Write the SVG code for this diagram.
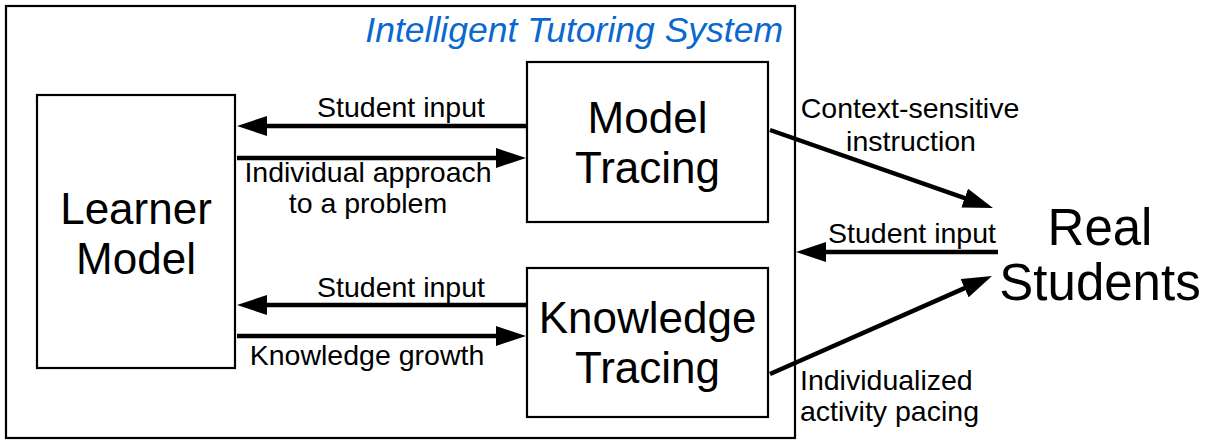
<svg xmlns="http://www.w3.org/2000/svg" width="1209" height="442" viewBox="0 0 1209 442">
<style>
.box{fill:#fff;stroke:#000;stroke-width:2.2}
.frame{fill:#fff;stroke:#000;stroke-width:2.2}
.big{font-family:"Liberation Sans",Arial,sans-serif;font-size:44px;fill:#000;text-anchor:middle}
.lbl{font-family:"Liberation Sans",Arial,sans-serif;font-size:28.5px;fill:#000}
.title{font-family:"Liberation Sans",Arial,sans-serif;font-size:35.5px;font-style:italic;fill:#0a68d0;text-anchor:end}
.conn line{stroke:#000;stroke-width:4.5;marker-end:url(#ah)}
</style>
<defs>
<marker id="ah" markerUnits="userSpaceOnUse" markerWidth="30" markerHeight="20" refX="10" refY="10" orient="auto" viewBox="0 0 30 20">
<path d="M0,0 L30,10 L0,20 z" fill="#000"/>
</marker>
</defs>
<g id="its">
<rect class="frame" x="6" y="6" width="789" height="432"/>
<text class="title" x="783" y="42">Intelligent Tutoring System</text>
</g>
<g id="learner-model">
<rect class="box" x="37" y="95" width="198" height="273"/>
<text class="big" x="136" y="224">Learner</text>
<text class="big" x="136" y="274">Model</text>
</g>
<g id="model-tracing">
<rect class="box" x="527" y="62" width="241" height="160"/>
<text class="big" x="647.5" y="133">Model</text>
<text class="big" x="647.5" y="183">Tracing</text>
</g>
<g id="knowledge-tracing">
<rect class="box" x="527" y="268" width="241" height="149"/>
<text class="big" x="647.5" y="333">Knowledge</text>
<text class="big" x="647.5" y="383">Tracing</text>
</g>
<g id="real-students">
<text class="big" x="1100" y="245" style="font-size:51px">Real</text>
<text class="big" x="1100" y="300" style="font-size:51px">Students</text>
</g>
<g id="connectors" class="conn">
<line x1="527" y1="126" x2="257" y2="126"/>
<line x1="237" y1="158" x2="506" y2="158"/>
<line x1="527" y1="305" x2="257" y2="305"/>
<line x1="237" y1="336" x2="506" y2="336"/>
<line x1="998" y1="252" x2="816" y2="252"/>
<line x1="770" y1="130" x2="974.1" y2="201.4"/>
<line x1="770" y1="374" x2="973.7" y2="284.1"/>
</g>
<g id="labels">
<text class="lbl" x="401" y="117" text-anchor="middle">Student input</text>
<text class="lbl" x="368" y="182" text-anchor="middle">Individual approach</text>
<text class="lbl" x="368" y="213" text-anchor="middle">to a problem</text>
<text class="lbl" x="401" y="297" text-anchor="middle">Student input</text>
<text class="lbl" x="367" y="365" text-anchor="middle">Knowledge growth</text>
<text class="lbl" x="910" y="118" text-anchor="middle">Context-sensitive</text>
<text class="lbl" x="911" y="151" text-anchor="middle">instruction</text>
<text class="lbl" x="912" y="243" text-anchor="middle">Student input</text>
<text class="lbl" x="800" y="390">Individualized</text>
<text class="lbl" x="800" y="421">activity pacing</text>
</g>
</svg>
